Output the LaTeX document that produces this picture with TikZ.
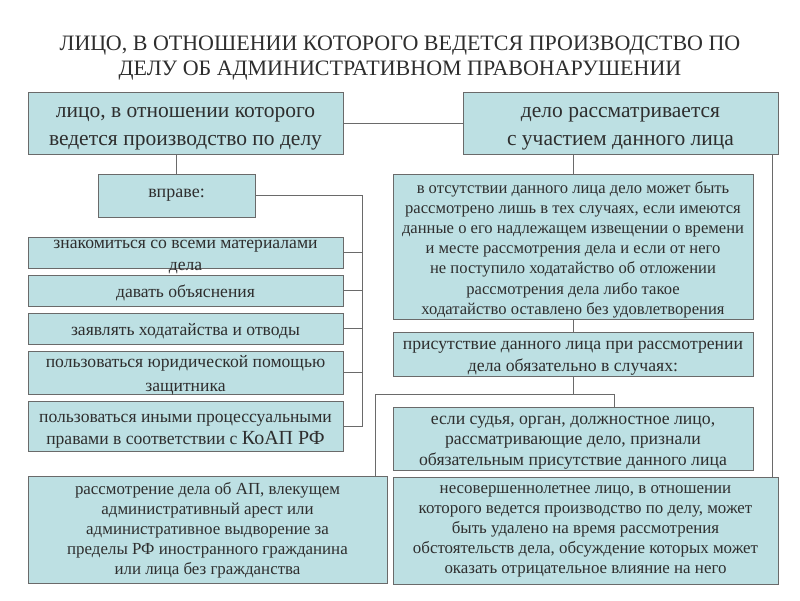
\documentclass[tikz,border=0pt]{standalone}
\usepackage{fontspec}
\setmainfont{Liberation Serif}
\definecolor{boxfill}{HTML}{BDE0E3}
\definecolor{boxline}{HTML}{6A6A6A}
\definecolor{txt}{HTML}{2E2E2E}
% box: name, x, y, width, height, text shift, font style, text
\newcommand{\bx}[8]{%
  \node[box, minimum width=#4pt, minimum height=#5pt] (#1) at (#2,#3) {};
  \node[#7, text=txt, align=center, inner sep=0pt] (#1t) at (#2,{#3+#6}) {#8};}
\begin{document}
\begin{tikzpicture}[x=1pt,y=-1pt,
  box/.style={draw=boxline, line width=0.9pt, fill=boxfill, inner sep=0pt},
  big/.style={font=\fontsize{21.5}{28}\selectfont},
  mid/.style={font=\fontsize{17.6}{21.7}\selectfont},
  midwide/.style={font=\fontsize{17.6}{24.5}\selectfont},
  vpr/.style={font=\fontsize{18}{22}\selectfont},
  small/.style={font=\fontsize{16.6}{20.2}\selectfont},
  dtxt/.style={font=\fontsize{17.7}{22}\selectfont},
  etxt/.style={font=\fontsize{17.7}{20.5}\selectfont},
  gtxt/.style={font=\fontsize{16.9}{20}\selectfont},
  conn/.style={draw=boxline, line width=0.9pt}]
\useasboundingbox (0,0) rectangle (800,600);
% title
\node[font=\fontsize{22}{25}\selectfont, text=txt, align=center, anchor=base] (title) at (400,75)
  {ЛИЦО, В ОТНОШЕНИИ КОТОРОГО ВЕДЕТСЯ ПРОИЗВОДСТВО ПО\\ДЕЛУ ОБ АДМИНИСТРАТИВНОМ ПРАВОНАРУШЕНИИ};
% top boxes
\bx{A}{185.5}{123}{315}{62}{6}{big}{лицо, в отношении которого\\ведется производство по делу}
\bx{B}{620.5}{123}{315}{62}{6}{big}{дело рассматривается\\с участием данного лица}
% left column
\bx{V}{176.5}{195.5}{157}{43}{0}{vpr}{вправе:}
\bx{I1}{185.5}{252.5}{315}{31}{4.5}{mid}{знакомиться со всеми материалами\\дела}
\bx{I2}{185.5}{290.5}{315}{31}{2}{mid}{давать объяснения}
\bx{I3}{185.5}{328.5}{315}{31}{2.5}{mid}{заявлять ходатайства и отводы}
\bx{I4}{185.5}{372.5}{315}{43}{3}{midwide}{пользоваться юридической помощью\\защитника}
\bx{I5}{185.5}{426}{315}{50}{5}{mid}{пользоваться иными процессуальными\\правами в соответствии с {\fontsize{20}{21.7}\selectfont КоАП РФ}}
% right column
\bx{C}{573}{246.5}{360}{145}{3}{small}{в отсутствии данного лица дело может быть\\рассмотрено лишь в тех случаях, если имеются\\данные о его надлежащем извещении о времени\\и месте рассмотрения дела и если от него\\не поступило ходатайство об отложении\\рассмотрения дела либо такое\\ходатайство оставлено без удовлетворения}
\bx{D}{573}{354}{360}{44}{4}{dtxt}{присутствие данного лица при рассмотрении\\дела обязательно в случаях:}
\bx{E}{573}{438.5}{360}{63}{4}{etxt}{если судья, орган, должностное лицо,\\рассматривающие дело, признали\\обязательным присутствие данного лица}
\bx{G}{207.5}{529.5}{359}{107}{1}{gtxt}{рассмотрение дела об АП, влекущем\\административный арест или\\административное выдворение за\\пределы РФ иностранного гражданина\\или лица без гражданства}
\bx{F}{585.5}{530.5}{385}{107}{1}{gtxt}{несовершеннолетнее лицо, в отношении\\которого ведется производство по делу, может\\быть удалено на время рассмотрения\\обстоятельств дела, обсуждение которых может\\оказать отрицательное влияние на него}
% connectors
\coordinate (rb) at (362,0);
\coordinate (rr) at (772,0);
\coordinate (jl) at (375,394);
\coordinate (jr) at (614,394);
\draw[conn] (A.east) -- (B.west);
\draw[conn] (A.south -| V.north) -- (V.north);
\draw[conn] (V.east) -| (rb |- I5.east) -- (I5.east);
\draw[conn] (I1.east) -- (rb |- I1.east);
\draw[conn] (I2.east) -- (rb |- I2.east);
\draw[conn] (I3.east) -- (rb |- I3.east);
\draw[conn] (I4.east) -- (rb |- I4.east);
\draw[conn] (B.south -| C.north) -- (C.north);
\draw[conn] (rr |- B.south) -- (rr |- F.north);
\draw[conn] (C.south) -- (D.north);
\draw[conn] (D.south) -- (D.south |- jl);
\draw[conn] (jl |- G.north) -- (jl) -- (jr) -- (jr |- E.north);
\end{tikzpicture}
\end{document}
